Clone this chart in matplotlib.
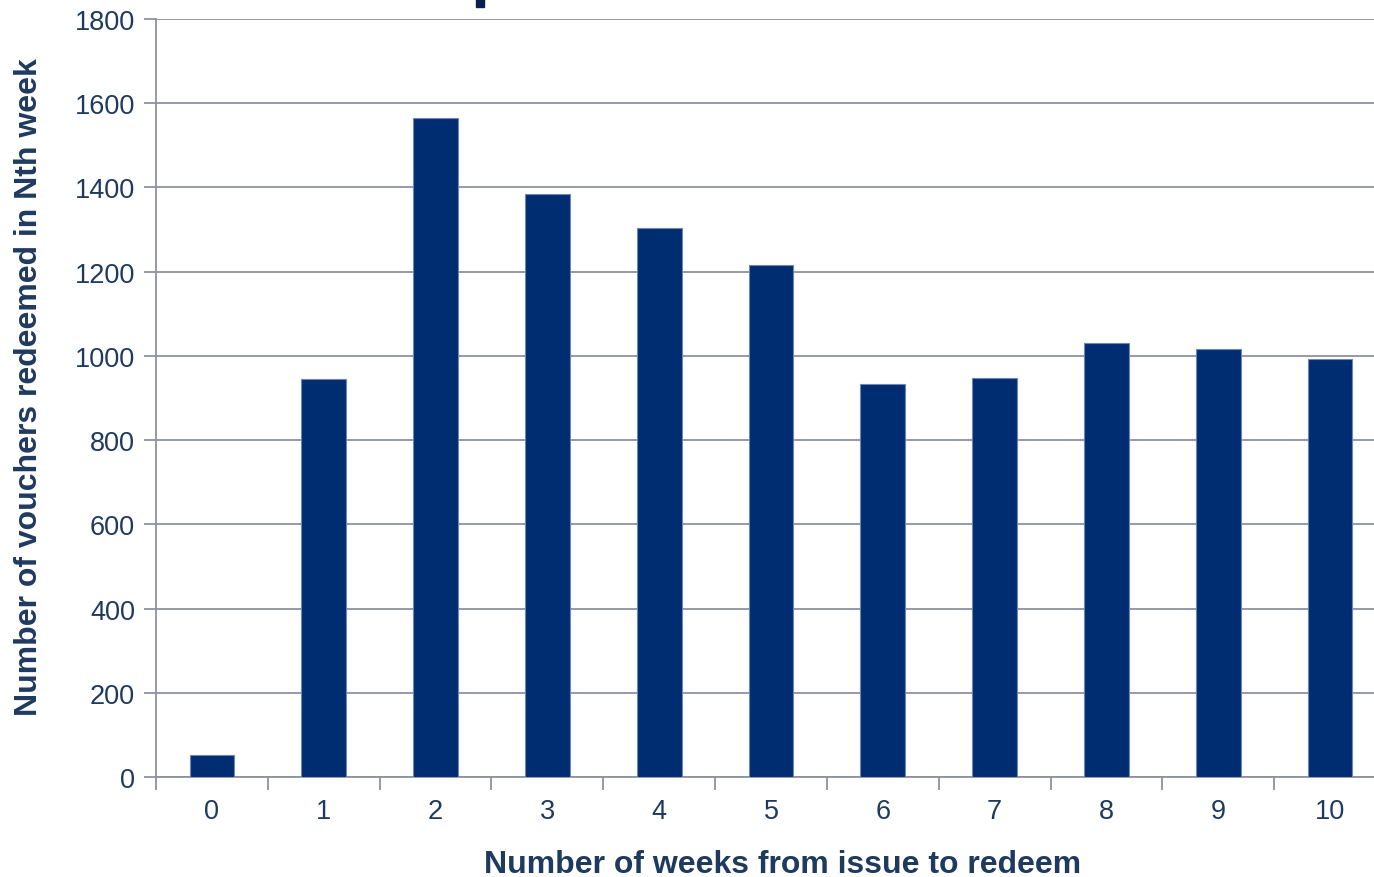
import matplotlib
matplotlib.use("Agg")
import matplotlib.pyplot as plt
import numpy as np

# data
weeks = [0, 1, 2, 3, 4, 5, 6, 7, 8, 9, 10]
vouchers = [52, 945, 1565, 1384, 1304, 1216, 933, 947, 1031, 1016, 993]

BAR = "#002D72"
TXT = "#1F3A5F"
GRID = "#8E929F"

plt.rcParams["font.family"] = ["Liberation Sans", "DejaVu Sans"]

fig = plt.figure(figsize=(13.74, 8.78), dpi=100)
fig.patch.set_facecolor("white")
ax = fig.add_axes([156 / 1374, 100 / 878, 1230 / 1374, 758 / 878])

x = np.arange(len(weeks))
ax.bar(x, vouchers, width=0.4, color=BAR, edgecolor="#6F86B8", linewidth=0.8, zorder=3)

ax.set_xlim(-0.5, len(weeks) - 0.5)
ax.set_ylim(0, 1800)
ax.set_yticks(np.arange(0, 1801, 200))
ax.yaxis.grid(True, color=GRID, linewidth=1.3, zorder=0)

ax.set_xticks(x)
ax.set_xticklabels([str(w) for w in weeks])
ax.set_xticks(np.arange(-0.5, len(weeks) + 0.5, 1), minor=True)
ax.tick_params(axis="x", which="major", length=0, pad=15, labelsize=19.5, labelcolor=TXT)
ax.tick_params(axis="x", which="minor", length=9, width=1.3, color=GRID)
ax.tick_params(axis="y", length=9, width=1.3, color=GRID, labelsize=19.5, labelcolor=TXT, pad=6)

for s in ["top", "right"]:
    ax.spines[s].set_visible(False)
for s in ["left", "bottom"]:
    ax.spines[s].set_color(GRID)
    ax.spines[s].set_linewidth(1.3)

ax.set_xlabel("Number of weeks from issue to redeem", fontsize=23, fontweight="bold",
              color=TXT, labelpad=18)
ax.xaxis.label.set_x(0.509)
ax.set_ylabel("Number of vouchers redeemed in Nth week", fontsize=23, fontweight="bold",
              color=TXT, labelpad=22)
ax.yaxis.label.set_y(0.516)

# fragment of a clipped title above the chart
fig.patches.append(plt.Rectangle((476 / 1374, 870 / 878), 8 / 1374, 8 / 878,
                                 transform=fig.transFigure, color="#0B1F4D"))

fig.savefig("out.png", dpi=100)
